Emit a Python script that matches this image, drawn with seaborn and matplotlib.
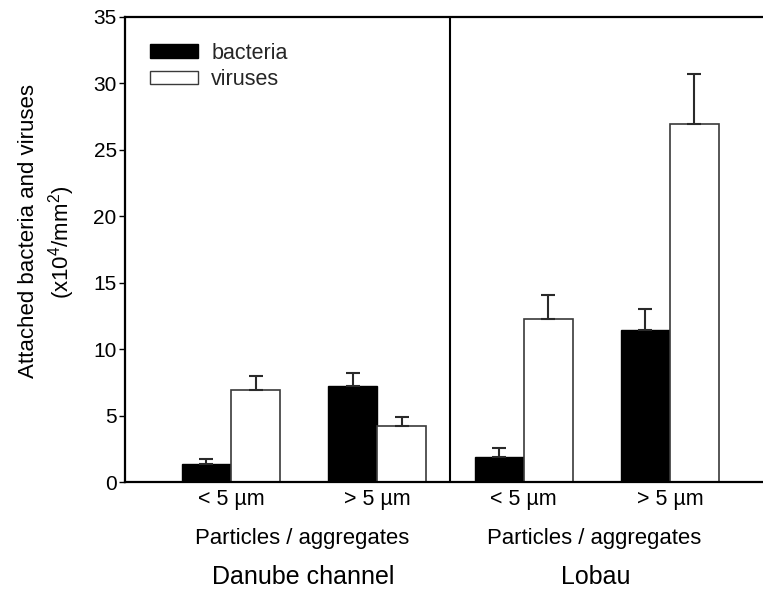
import matplotlib
matplotlib.use("Agg")
import matplotlib.pyplot as plt
import seaborn as sns
import pandas as pd
import numpy as np
from matplotlib.patches import Patch

# ---- data ----
categories = ["Danube <5", "Danube >5", "Lobau <5", "Lobau >5"]
tick_labels = ["< 5 µm", "> 5 µm", "< 5 µm", "> 5 µm"]
groups = ["Danube channel", "Lobau"]
organisms = ["bacteria", "viruses"]
bacteria = [1.35, 7.2, 1.88, 11.44]
bacteria_err = [0.4, 1.0, 0.7, 1.56]
viruses = [6.95, 4.19, 12.29, 26.96]
viruses_err = [1.03, 0.73, 1.81, 3.74]

df = pd.DataFrame({
    "category": categories * 2,
    "organism": ["bacteria"] * 4 + ["viruses"] * 4,
    "value": bacteria + viruses,
})

sns.set_theme(style="white")
plt.rcParams["font.family"] = ["Liberation Sans", "DejaVu Sans"]
plt.rcParams["mathtext.fontset"] = "custom"
plt.rcParams["mathtext.rm"] = "Liberation Sans"
plt.rcParams["mathtext.it"] = "Liberation Sans"

fig = plt.figure(figsize=(7.63, 5.95), dpi=100)
ax = fig.add_axes([125 / 763, 113 / 595, 638 / 763, 465 / 595])

sns.barplot(data=df, x="category", y="value", hue="organism", order=categories,
            hue_order=organisms, palette={"bacteria": "black", "viruses": "white"},
            width=0.67, errorbar=None, ax=ax, legend=False, saturation=1)

errs = [bacteria_err, viruses_err]
vals = [bacteria, viruses]
bar_containers = list(ax.containers)[:2]
for ci, cont in enumerate(bar_containers):
    for bi, bar in enumerate(cont.patches):
        if ci == 0:
            bar.set_edgecolor("black")
            bar.set_linewidth(1.0)
        else:
            bar.set_edgecolor("#3a3a3a")
            bar.set_linewidth(1.2)
        xc = bar.get_x() + bar.get_width() / 2
        ax.errorbar([xc], [vals[ci][bi]], yerr=[[0], [errs[ci][bi]]], fmt="none",
                    ecolor="#2a2a2a", elinewidth=1.5, capsize=5, capthick=1.5, zorder=3)

ax.set_ylim(0, 35)
ax.set_xlim(-0.7245, 3.636)
ax.set_yticks(np.arange(0, 36, 5))
ax.tick_params(axis="y", which="major", left=True, length=4, width=1.0, pad=2,
               labelsize=15, color="black", labelcolor="black")
ax.tick_params(axis="x", length=0, pad=5, labelsize=15.5, labelcolor="black")
ax.set_xticks(range(4))
ax.set_xticklabels(tick_labels)
ax.set_xlabel("")
ax.set_ylabel("")

for s in ["left", "top", "bottom"]:
    ax.spines[s].set_visible(True)
    ax.spines[s].set_color("black")
    ax.spines[s].set_linewidth(1.6)
ax.spines["right"].set_visible(False)
ax.axvline(1.5, color="black", lw=1.5, zorder=4)

# y-axis label (two lines)
ax.text(-0.1505, 0.540, "Attached bacteria and viruses", transform=ax.transAxes,
        rotation=90, ha="center", va="center", fontsize=16, color="black")
ax.text(-0.0988, 0.516, "(x10$^{4}$/mm$^{2}$)", transform=ax.transAxes,
        rotation=90, ha="center", va="center", fontsize=16, color="black")

# group labels
trans = matplotlib.transforms.blended_transform_factory(ax.transData, ax.transAxes)
for gx, g in zip([0.5, 2.5], groups):
    ax.text(gx - 0.015, -0.122, "Particles / aggregates", transform=trans, ha="center",
            va="center", fontsize=15.9, color="black")
    ax.text(gx - 0.01, -0.205, g, transform=trans, ha="center", va="center",
            fontsize=18, color="black")

handles = [Patch(facecolor="black", edgecolor="black", label="bacteria"),
           Patch(facecolor="white", edgecolor="#3a3a3a", label="viruses")]
ax.legend(handles=handles, loc="upper left", bbox_to_anchor=(0.039, 0.945),
          frameon=False, fontsize=15.5, handlelength=2.25, handleheight=0.6,
          handletextpad=0.6, labelspacing=0.25, borderpad=0, borderaxespad=0)

fig.savefig("out.png", dpi=100)
